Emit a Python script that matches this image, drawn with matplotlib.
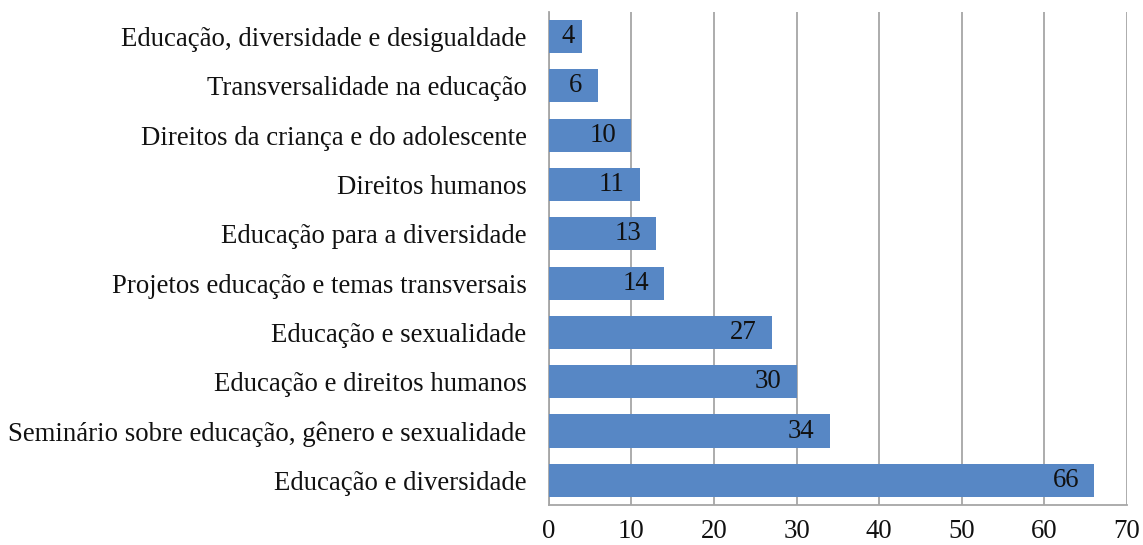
import matplotlib as mpl
mpl.use('Agg')
import matplotlib.pyplot as plt

categories = ['Educação e diversidade',
              'Seminário sobre educação, gênero e sexualidade',
              'Educação e direitos humanos',
              'Educação e sexualidade',
              'Projetos educação e temas transversais',
              'Educação para a diversidade',
              'Direitos humanos',
              'Direitos da criança e do adolescente',
              'Transversalidade na educação',
              'Educação, diversidade e desigualdade']
values = [66, 34, 30, 27, 14, 13, 11, 10, 6, 4]
xticks = [0, 10, 20, 30, 40, 50, 60, 70]

plt.rcParams['font.family'] = ['Liberation Serif', 'DejaVu Serif']
fs = 19.3
fig = plt.figure(figsize=(11.43, 5.45), dpi=100)
ax = fig.add_axes([0.480, 0.0734, 0.506, 0.905])

y = list(range(len(values)))
ax.barh(y, values, height=0.67, color='#5787C5', zorder=3)
ax.set_ylim(-0.5, len(values) - 0.5)
ax.set_xlim(0, 70)
ax.set_xticks(xticks)
ax.set_yticks(y)
ax.set_yticklabels(categories, fontsize=fs, color='#111111')
ax.tick_params(axis='x', labelsize=fs, colors='#111111', length=0, pad=10)
ax.tick_params(axis='y', length=0, pad=16)
ax.grid(axis='x', color='#A6A6A6', lw=1.3, zorder=0)
for s in ['top', 'right']:
    ax.spines[s].set_visible(False)
for s in ['left', 'bottom']:
    ax.spines[s].set_color('#A6A6A6')
    ax.spines[s].set_linewidth(1.3)

for yi, v in zip(y, values):
    if v < 8:
        ax.text(v / 2 + 0.3, yi, str(v), ha='center', va='center', fontsize=fs, color='#111111', zorder=4)
    else:
        ax.text(v - 1.8, yi, str(v), ha='right', va='center', fontsize=fs, color='#111111', zorder=4)

fig.savefig('out.png', dpi=100)
